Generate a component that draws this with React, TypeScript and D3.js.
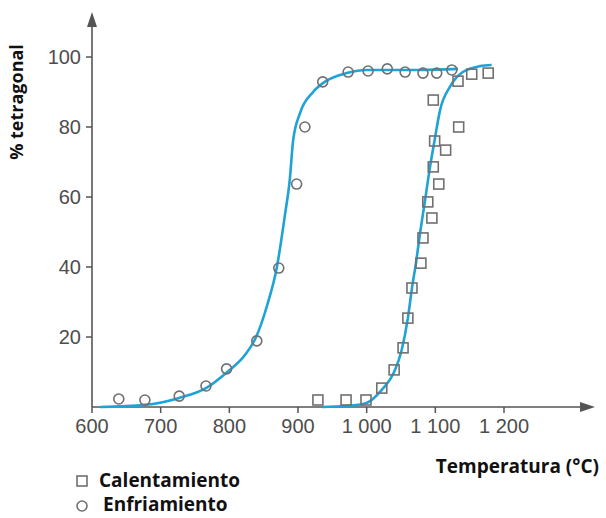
import React from "react";
import * as d3 from "d3";

// Data
const coolingT = [639, 677, 727, 766, 796, 840, 872, 898, 910, 936, 973, 1002, 1030, 1056, 1082, 1102, 1124];
const coolingV = [2.3, 2.0, 3.1, 6.0, 10.9, 18.9, 39.7, 63.7, 80, 92.9, 95.7, 96, 96.6, 95.7, 95.4, 95.4, 96.3];

const heatingT = [929, 970, 999, 1022, 1040, 1053, 1060, 1066, 1079, 1082, 1095, 1089, 1105, 1097, 1115, 1099, 1134, 1097, 1133, 1153, 1177];
const heatingV = [2, 2, 2, 5.4, 10.6, 16.9, 25.4, 34, 41.1, 48.3, 54, 58.6, 63.7, 68.6, 73.4, 76, 80, 87.7, 93.1, 95.1, 95.4];

// Fitted curves
const coolFitT = [612, 677, 727, 766, 797, 823, 839, 855, 869, 881, 888, 893, 903, 922, 939, 971, 1000, 1078, 1133];
const coolFitV = [0, 0.6, 2.6, 5.4, 10, 14.9, 20, 29, 39.7, 54.9, 64.9, 76.3, 84, 90, 92.9, 95.4, 96.3, 96.3, 96.6];

const heatFitT = [935, 970, 999, 1022, 1040, 1051, 1060, 1066, 1072, 1078, 1085, 1092, 1099, 1107, 1121, 1140, 1165, 1182];
const heatFitV = [0, 0.3, 1.1, 4.9, 10, 16.3, 25.4, 34, 41.4, 50, 59, 68.3, 76.3, 84.9, 91.4, 95.7, 97.4, 97.7];

const xTicks = [600, 700, 800, 900, 1000, 1100, 1200];
const yTicks = [20, 40, 60, 80, 100];

const xLabel = "Temperatura (°C)";
const yLabel = "% tetragonal";
const legendLabels = ["Calentamiento", "Enfriamiento"];

export default function App() {
  const W = 606, H = 518;
  const x = d3.scaleLinear().domain([600, 1200]).range([92, 504]);
  const y = d3.scaleLinear().domain([0, 100]).range([407, 57]);
  const fmt = d3.formatLocale({ decimal: ".", thousands: " ", grouping: [3], currency: ["", ""] }).format(",");

  const line = d3.line<[number, number]>()
    .x(d => x(d[0]))
    .y(d => y(d[1]))
    .curve(d3.curveMonotoneX);

  const coolFit = coolFitT.map((t, i) => [t, coolFitV[i]] as [number, number]);
  const heatFit = heatFitT.map((t, i) => [t, heatFitV[i]] as [number, number]);

  const blue = "#1ea2d7";
  const markerStroke = "#707070";
  const axisColor = "#555";
  const tickFont = "'Liberation Sans', Arial, sans-serif";
  const boldFont = "'Open Sans', 'DejaVu Sans', sans-serif";
  const sq = 10;

  const x0 = x(600), yb = y(0);

  return (
    <svg width={W} height={H} style={{ position: "absolute", left: 0, top: 0, background: "#fff" }}>
      <rect width={W} height={H} fill="#fff" />
      {/* axes */}
      <line x1={x0} y1={yb} x2={x0} y2={22} stroke={axisColor} strokeWidth={1.6} />
      <path d={`M${x0},12 L${x0 - 5},27 L${x0 + 5},27 Z`} fill={axisColor} />
      <line x1={x0} y1={yb} x2={584} y2={yb} stroke={axisColor} strokeWidth={1.6} />
      <path d={`M595,${yb} L580,${yb - 5} L580,${yb + 5} Z`} fill={axisColor} />

      {yTicks.map(v => (
        <g key={"y" + v}>
          <line x1={x0 - 6} x2={x0} y1={y(v)} y2={y(v)} stroke={axisColor} strokeWidth={1.5} />
          <text x={81} y={y(v) + 7} textAnchor="end" fontFamily={tickFont} fontSize={20} fill="#4d4d4d">{v}</text>
        </g>
      ))}
      {xTicks.map(v => (
        <g key={"x" + v}>
          <line x1={x(v)} x2={x(v)} y1={yb} y2={yb + 6} stroke={axisColor} strokeWidth={1.5} />
          <text x={x(v)} y={433} textAnchor="middle" fontFamily={tickFont} fontSize={20} fill="#4d4d4d">{fmt(v)}</text>
        </g>
      ))}

      {/* fitted curves */}
      <path d={line(coolFit) || ""} fill="none" stroke={blue} strokeWidth={2.6} />
      <path d={line(heatFit) || ""} fill="none" stroke={blue} strokeWidth={2.6} />

      {/* markers */}
      {coolingT.map((t, i) => (
        <circle key={"c" + i} cx={x(t)} cy={y(coolingV[i])} r={5} fill="none" stroke={markerStroke} strokeWidth={1.6} />
      ))}
      {heatingT.map((t, i) => (
        <rect key={"s" + i} x={x(t) - sq / 2} y={y(heatingV[i]) - sq / 2} width={sq} height={sq} fill="none" stroke={markerStroke} strokeWidth={1.6} />
      ))}

      {/* axis titles */}
      <text transform="translate(23,102) rotate(-90)" textAnchor="middle" fontFamily={boldFont} fontWeight="bold" fontSize={18} fill="#111">{yLabel}</text>
      <text x={599} y={473} textAnchor="end" fontFamily={boldFont} fontWeight="bold" fontSize={19} fill="#111">{xLabel}</text>

      {/* legend */}
      <rect x={77} y={476} width={10} height={10} fill="none" stroke={markerStroke} strokeWidth={1.6} />
      <text x={99} y={487} fontFamily={boldFont} fontWeight="bold" fontSize={19} fill="#111">{legendLabels[0]}</text>
      <circle cx={82} cy={506} r={5} fill="none" stroke={markerStroke} strokeWidth={1.6} />
      <text x={103} y={511} fontFamily={boldFont} fontWeight="bold" fontSize={19} fill="#111">{legendLabels[1]}</text>
    </svg>
  );
}
